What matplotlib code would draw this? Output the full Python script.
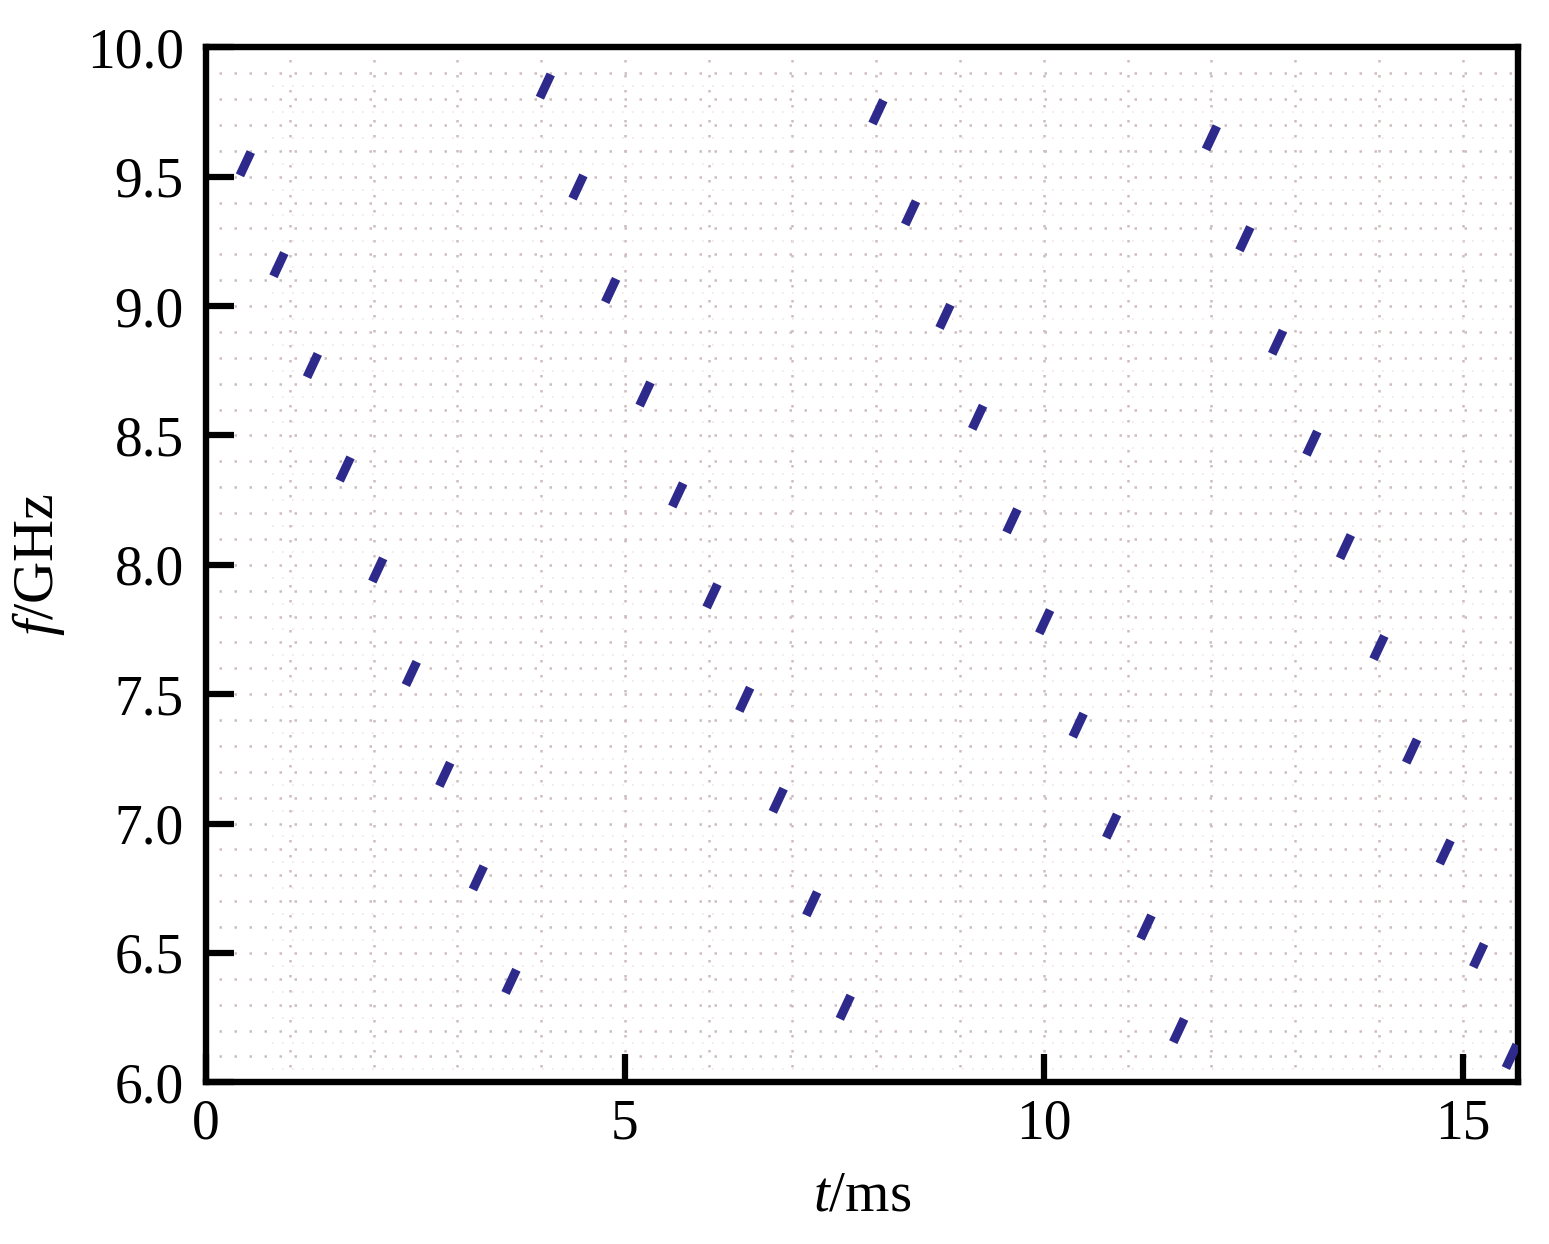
import numpy as np
import matplotlib.pyplot as plt

# centre of each hop (time in ms, frequency in GHz)
t_hop = [0.47, 0.87, 1.27, 1.66, 2.05, 2.45, 2.85, 3.25, 3.64,
         4.05, 4.44, 4.83, 5.24, 5.63, 6.04, 6.43, 6.83, 7.23, 7.63,
         8.02, 8.41, 8.82, 9.21, 9.62, 10.01, 10.41, 10.81, 11.22, 11.61,
         12.00, 12.40, 12.79, 13.20, 13.60, 14.00, 14.39, 14.79, 15.19, 15.58]
f_hop = [9.55, 9.16, 8.77, 8.37, 7.98, 7.58, 7.19, 6.79, 6.39,
         9.85, 9.46, 9.06, 8.66, 8.27, 7.88, 7.48, 7.09, 6.69, 6.29,
         9.75, 9.36, 8.96, 8.57, 8.17, 7.78, 7.38, 6.99, 6.60, 6.20,
         9.65, 9.26, 8.86, 8.47, 8.07, 7.68, 7.28, 6.89, 6.49, 6.10]
half_dt = 0.065  # half duration of a hop, ms
half_df = 0.045  # half frequency span of a hop, GHz

plt.rcParams['font.family'] = ['Liberation Serif', 'DejaVu Serif']
plt.rcParams['mathtext.fontset'] = 'custom'
plt.rcParams['mathtext.it'] = 'Liberation Serif:italic'
plt.rcParams['mathtext.rm'] = 'Liberation Serif'

fig = plt.figure(figsize=(15.49, 12.44), dpi=100)
ax = fig.add_axes([0.133, 0.130, 0.847, 0.832])

# faint dotted background grid
for x in range(1, 16):
    ax.axvline(x, color='#cdbdbf', lw=1.8, ls=(0, (1, 5)), zorder=0)
for y in np.arange(6.1, 9.95, 0.1):
    ax.axhline(y, xmin=0.01, color='#cdbdbf', lw=1.8, ls=(0, (1, 5)), zorder=0)
for y in np.arange(6.05, 9.9, 0.1):
    ax.axhline(y, xmin=0.05, color='#efe7e4', lw=1.2, ls=(0, (1, 5)), zorder=0)

for t, f in zip(t_hop, f_hop):
    ax.plot([t - half_dt, t + half_dt], [f - half_df, f + half_df],
            color='#2e2a8c', lw=6.5, solid_capstyle='butt', zorder=3)

ax.set_xlim(0, 15.66)
ax.set_ylim(6.0, 10.0)
ax.set_xticks([0, 5, 10, 15])
ax.set_yticks(np.arange(6.0, 10.01, 0.5))
ax.set_yticklabels([f"{v:.1f}" for v in np.arange(6.0, 10.01, 0.5)])
ax.tick_params(direction='in', length=20, width=4.5, labelsize=40, pad=12)
ax.tick_params(axis='y', pad=16)
for s in ax.spines.values():
    s.set_linewidth(4.6)

ax.set_xlabel(r'$t$/ms', fontsize=41, labelpad=14)
ax.set_ylabel(r'$f$/GHz', fontsize=42, labelpad=14)

fig.savefig('out.png', dpi=100)
